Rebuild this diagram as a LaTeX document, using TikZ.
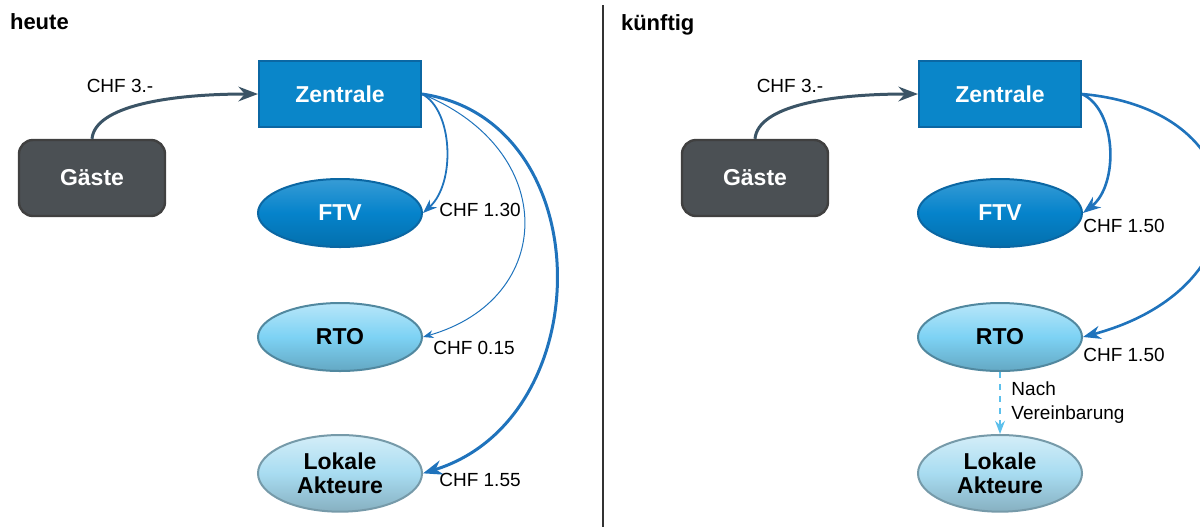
\documentclass[tikz,border=0pt]{standalone}
\usepackage{fontspec}
\setmainfont{Liberation Sans}
\usetikzlibrary{positioning, shapes.geometric, arrows.meta}

\definecolor{zblue}{HTML}{0A86C9}
\definecolor{zblueline}{HTML}{0B67A3}
\definecolor{ftvblue}{HTML}{0583CB}
\definecolor{rtoblue}{HTML}{7DD2F4}
\definecolor{lokblue}{HTML}{A8DCF1}
\definecolor{guestgray}{HTML}{4B5054}
\definecolor{flowdark}{HTML}{3B5466}
\definecolor{flowblue}{HTML}{1F73BC}
\definecolor{agreeblue}{HTML}{5CC0EC}

\begin{document}
\begin{tikzpicture}[
  x=0.5pt, y=-0.5pt,
  title/.style={font=\fontsize{11}{13}\selectfont\bfseries, anchor=west},
  hub/.style={draw=zblueline, line width=1pt, fill=zblue, minimum width=81pt, minimum height=33pt, text=white, font=\fontsize{11.5}{13}\selectfont\bfseries},
  guest/.style={draw=black!75, line width=1.2pt, rounded corners=7pt, fill=guestgray, minimum width=73pt, minimum height=38pt, text=white, font=\fontsize{11.5}{13}\selectfont\bfseries},
  org/.style={ellipse, line width=1pt, minimum width=82pt, minimum height=34pt, font=\fontsize{11.5}{13}\selectfont\bfseries, align=center},
  ftvorg/.style={org, draw=zblueline, top color=ftvblue!80!white, bottom color=ftvblue!85!black, middle color=ftvblue, text=white},
  rtoorg/.style={org, draw=black!35!rtoblue, top color=rtoblue!55!white, bottom color=rtoblue!80!black, middle color=rtoblue},
  lokorg/.style={org, draw=black!30!lokblue, top color=lokblue!50!white, bottom color=lokblue!80!black, middle color=lokblue},
  amount/.style={font=\fontsize{9.5}{12}\selectfont, text=black},
  >=Stealth
]
\useasboundingbox (0,0) rectangle (1200,527);

% heute
\node[title] (heute) at (3,22) {heute};
\node[hub] (zentrale) at (340,94) {Zentrale};
\node[guest] (gaeste) at (92,178) {Gäste};
\node[ftvorg, below=25pt of zentrale] (ftv) {FTV};
\node[rtoorg, below=27pt of ftv] (rto) {RTO};
\node[lokorg, below=31pt of rto] (lokale) {Lokale\\[-1pt]Akteure};

\draw[flowdark, line width=1.5pt, ->] (gaeste.north) .. controls +(3,-33) and +(-88,0) .. (zentrale.west);
\draw[flowblue, line width=0.9pt, ->] (zentrale.east) .. controls +(31,16) and +(33,-30) .. (ftv.east);
\draw[flowblue, line width=0.5pt, ->] (zentrale.east) .. controls +(138,56) and +(133,-38) .. (rto.east);
\draw[flowblue, line width=1.5pt, ->] (zentrale.east) .. controls +(178,26) and +(178,-55) .. (lokale.east);

\node[amount] (h30) at (120,86) {CHF 3.-};
\node[amount] (h130) at (480,210) {CHF 1.30};
\node[amount] (h015) at (474,348) {CHF 0.15};
\node[amount] (h155) at (480,480) {CHF 1.55};

% divider
\coordinate (top) at (603,5);
\coordinate (bottom) at (603,527);
\draw[black!80, line width=0.8pt] (top) -- (bottom);

% kuenftig
\node[title] (kuenftig) at (614,25) {künftig};
\node[hub] (zentrale2) at (1000,94) {Zentrale};
\node[guest] (gaeste2) at (755,178) {Gäste};
\node[ftvorg, below=25pt of zentrale2] (ftv2) {FTV};
\node[rtoorg, below=27pt of ftv2] (rto2) {RTO};
\node[lokorg, below=31pt of rto2] (lokale2) {Lokale\\[-1pt]Akteure};

\draw[flowdark, line width=1.5pt, ->] (gaeste2.north) .. controls +(3,-33) and +(-88,0) .. (zentrale2.west);
\draw[flowblue, line width=1.3pt, ->] (zentrale2.east) .. controls +(35,16) and +(36,-28) .. (ftv2.east);
\draw[flowblue, line width=1.3pt, ->] (zentrale2.east) .. controls +(180,16) and +(186,-50) .. (rto2.east);
\draw[agreeblue, line width=0.8pt, dashed, ->] (rto2.south) -- node[amount, right=2pt, align=left] {Nach\\Vereinbarung} (lokale2.north);

\node[amount] (k30) at (790,86) {CHF 3.-};
\node[amount] (k150a) at (1124,226) {CHF 1.50};
\node[amount] (k150b) at (1124,355) {CHF 1.50};
\end{tikzpicture}
\end{document}
